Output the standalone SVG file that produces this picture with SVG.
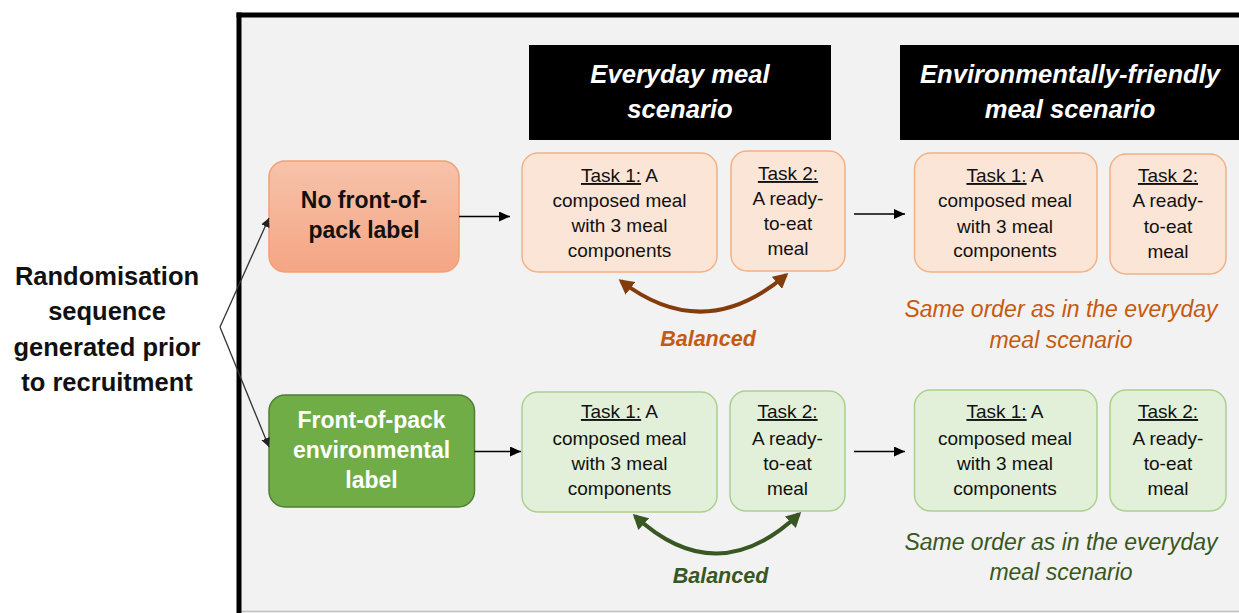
<svg xmlns="http://www.w3.org/2000/svg" width="1239" height="613" viewBox="0 0 1239 613">
<defs>
<linearGradient id="gOr" x1="0" y1="0" x2="0" y2="1">
<stop offset="0" stop-color="#f7c3aa"/>
<stop offset="1" stop-color="#f4a584"/>
</linearGradient>
<marker id="ah" markerUnits="userSpaceOnUse" markerWidth="12" markerHeight="10" refX="11" refY="5" orient="auto">
<path d="M0,0 L11,5 L0,10 z" fill="#000"/>
</marker>
<marker id="ahs" markerUnits="userSpaceOnUse" markerWidth="10" markerHeight="9" refX="9" refY="4.5" orient="auto">
<path d="M0,0 L9,4.5 L0,9 z" fill="#222"/>
</marker>
<marker id="abr" markerUnits="userSpaceOnUse" markerWidth="16" markerHeight="16" refX="12" refY="8" orient="auto-start-reverse">
<path d="M0,0 L15,8 L0,16 z" fill="#843c0c"/>
</marker>
<marker id="agr" markerUnits="userSpaceOnUse" markerWidth="16" markerHeight="16" refX="12" refY="8" orient="auto-start-reverse">
<path d="M0,0 L15,8 L0,16 z" fill="#385723"/>
</marker>
</defs>
<style>
.t{font-family:"Liberation Sans",Arial,sans-serif;}
.task{font-size:19px;fill:#111;text-anchor:middle;}
.u{text-decoration:underline;}
.hd{font-size:25.6px;font-weight:bold;font-style:italic;fill:#fff;text-anchor:middle;}
.nd{font-size:23px;font-weight:bold;text-anchor:middle;}
.same{font-size:23px;font-style:italic;text-anchor:middle;}
.bal{font-size:21.5px;font-weight:bold;font-style:italic;text-anchor:middle;}
.to{fill:#fbe5d6;stroke:#f4b183;stroke-width:1.5;}
.tg{fill:#e2f0d9;stroke:#a9d18e;stroke-width:1.5;}
</style>
<rect width="1239" height="613" fill="#fff"/>
<g id="frame">
<rect x="239" y="15" width="1010" height="596" fill="#f2f2f2"/>
<line x1="239" y1="611.5" x2="1239" y2="611.5" stroke="#bfbfbf" stroke-width="1.5"/>
<line x1="236.5" y1="15" x2="1239" y2="15" stroke="#000" stroke-width="5"/>
<line x1="239" y1="12.5" x2="239" y2="613" stroke="#000" stroke-width="5"/>
</g>
<g id="randomisation" class="t">
<text x="107" y="285" class="nd" style="font-size:25.5px" fill="#111">Randomisation</text>
<text x="107" y="320" class="nd" style="font-size:25.5px" fill="#111">sequence</text>
<text x="107" y="356" class="nd" style="font-size:25.5px" fill="#111">generated prior</text>
<text x="107" y="391" class="nd" style="font-size:25.5px" fill="#111">to recruitment</text>
</g>
<g id="header-everyday" class="t">
<rect x="529" y="45" width="302" height="95" fill="#000"/>
<text x="680" y="83" class="hd">Everyday meal</text>
<text x="680" y="118" class="hd">scenario</text>
</g>
<g id="header-env" class="t">
<rect x="900" y="45" width="339" height="95" fill="#000"/>
<text x="1070" y="83" class="hd">Environmentally-friendly</text>
<text x="1070" y="118" class="hd">meal scenario</text>
</g>
<g id="node-nolabel" class="t">
<rect x="269" y="161" width="190" height="111" rx="16" fill="url(#gOr)" stroke="#f2a072" stroke-width="1.5"/>
<text x="364" y="208" class="nd" fill="#111">No front-of-</text>
<text x="364" y="238" class="nd" fill="#111">pack label</text>
</g>
<g id="node-envlabel" class="t">
<rect x="269" y="395" width="205.5" height="112" rx="16" fill="#70ad47" stroke="#507e32" stroke-width="1.5"/>
<text x="371.5" y="428" class="nd" fill="#fff">Front-of-pack</text>
<text x="371.5" y="458" class="nd" fill="#fff">environmental</text>
<text x="371.5" y="488" class="nd" fill="#fff">label</text>
</g>
<g id="top-ed-task1" class="t">
<rect x="522" y="153" width="195" height="119" rx="16" class="to"/>
<text x="619.5" y="182" class="task"><tspan class="u">Task 1:</tspan> A</text>
<text x="619.5" y="207" class="task">composed meal</text>
<text x="619.5" y="232" class="task">with 3 meal</text>
<text x="619.5" y="257" class="task">components</text>
</g>
<g id="top-ed-task2" class="t">
<rect x="731" y="151" width="114" height="120" rx="16" class="to"/>
<text x="788" y="180" class="task"><tspan class="u">Task 2:</tspan></text>
<text x="788" y="205" class="task">A ready-</text>
<text x="788" y="230" class="task">to-eat</text>
<text x="788" y="255" class="task">meal</text>
</g>
<g id="top-ef-task1" class="t">
<rect x="914.5" y="153" width="182.5" height="119" rx="16" class="to"/>
<text x="1005" y="182" class="task"><tspan class="u">Task 1:</tspan> A</text>
<text x="1005" y="207" class="task">composed meal</text>
<text x="1005" y="233" class="task">with 3 meal</text>
<text x="1005" y="257" class="task">components</text>
</g>
<g id="top-ef-task2" class="t">
<rect x="1110" y="154" width="116" height="120" rx="16" class="to"/>
<text x="1168" y="182" class="task"><tspan class="u">Task 2:</tspan></text>
<text x="1168" y="207" class="task">A ready-</text>
<text x="1168" y="233" class="task">to-eat</text>
<text x="1168" y="258" class="task">meal</text>
</g>
<g id="bot-ed-task1" class="t">
<rect x="522" y="392" width="195" height="120" rx="16" class="tg"/>
<text x="619.5" y="418" class="task"><tspan class="u">Task 1:</tspan> A</text>
<text x="619.5" y="445" class="task">composed meal</text>
<text x="619.5" y="470" class="task">with 3 meal</text>
<text x="619.5" y="495" class="task">components</text>
</g>
<g id="bot-ed-task2" class="t">
<rect x="730" y="391" width="115" height="120" rx="16" class="tg"/>
<text x="787.5" y="418" class="task"><tspan class="u">Task 2:</tspan></text>
<text x="787.5" y="445" class="task">A ready-</text>
<text x="787.5" y="470" class="task">to-eat</text>
<text x="787.5" y="495" class="task">meal</text>
</g>
<g id="bot-ef-task1" class="t">
<rect x="914.5" y="390" width="182.5" height="121" rx="16" class="tg"/>
<text x="1005" y="418" class="task"><tspan class="u">Task 1:</tspan> A</text>
<text x="1005" y="445" class="task">composed meal</text>
<text x="1005" y="470" class="task">with 3 meal</text>
<text x="1005" y="495" class="task">components</text>
</g>
<g id="bot-ef-task2" class="t">
<rect x="1110" y="390" width="116" height="121" rx="16" class="tg"/>
<text x="1168" y="418" class="task"><tspan class="u">Task 2:</tspan></text>
<text x="1168" y="445" class="task">A ready-</text>
<text x="1168" y="470" class="task">to-eat</text>
<text x="1168" y="495" class="task">meal</text>
</g>
<g id="labels" class="t">
<text x="708" y="346" class="bal" fill="#c55a11">Balanced</text>
<text x="720.5" y="583" class="bal" fill="#385723">Balanced</text>
<text x="1061" y="317" class="same" fill="#c55a11">Same order as in the everyday</text>
<text x="1061" y="348" class="same" fill="#c55a11">meal scenario</text>
<text x="1061" y="550" class="same" fill="#385723">Same order as in the everyday</text>
<text x="1061" y="580" class="same" fill="#385723">meal scenario</text>
</g>
<g id="connectors" fill="none">
<path d="M220,327 L269,218" stroke="#333" stroke-width="1.3" marker-end="url(#ahs)"/>
<path d="M220,327 L269,447" stroke="#333" stroke-width="1.3" marker-end="url(#ahs)"/>
<line x1="459" y1="216.5" x2="510" y2="216.5" stroke="#000" stroke-width="1.5" marker-end="url(#ah)"/>
<line x1="474.5" y1="451.5" x2="521" y2="451.5" stroke="#000" stroke-width="1.5" marker-end="url(#ah)"/>
<line x1="854" y1="214" x2="905" y2="214" stroke="#000" stroke-width="1.5" marker-end="url(#ah)"/>
<line x1="854" y1="451.5" x2="905" y2="451.5" stroke="#000" stroke-width="1.5" marker-end="url(#ah)"/>
<path d="M621,281 Q704,345 786,275" stroke="#843c0c" stroke-width="4" marker-start="url(#abr)" marker-end="url(#abr)"/>
<path d="M635,516 Q717,592 799,514" stroke="#385723" stroke-width="4" marker-start="url(#agr)" marker-end="url(#agr)"/>
</g>
</svg>
